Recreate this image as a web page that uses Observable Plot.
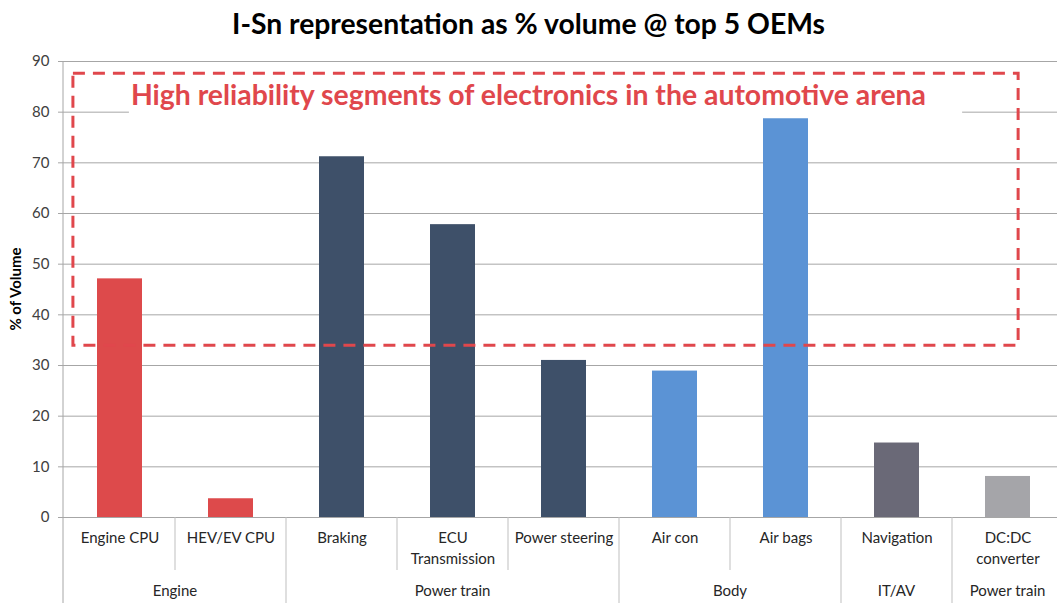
<!DOCTYPE html>
<html><head><meta charset="utf-8">
<script src="https://cdn.jsdelivr.net/npm/d3@7"></script>
<script src="https://cdn.jsdelivr.net/npm/@observablehq/plot@0.6"></script>
<style>
body{margin:0;background:#fff;}
#title{height:50px;font-family:Lato,sans-serif;font-weight:bold;font-size:28.3px;text-align:center;line-height:46px;color:#000;}
#chart svg{overflow:visible;}
</style></head><body>
<div id="title">I-Sn representation as % volume @ top 5 OEMs</div>
<div id="chart"></div>
<script>
const categories = ["Engine CPU","HEV/EV CPU","Braking","ECU\nTransmission","Power steering","Air con","Air bags","Navigation","DC:DC\nconverter"];
const values = [47.1, 3.7, 71.2, 57.8, 31.0, 28.9, 78.7, 14.7, 8.1];
const groups = ["Engine","Engine","Power train","Power train","Power train","Body","Body","IT/AV","Power train"];
const barColors = ["#DD4A4B","#DD4A4B","#3E5069","#3E5069","#3E5069","#5B93D5","#5B93D5","#6A6977","#A5A5A9"];
const yTicks = [0,10,20,30,40,50,60,70,80,90];
const yLabel = "% of Volume";
const annotationText = "High reliability segments of electronics in the automotive arena";
const boxRange = [33.9, 87.6];

const data = categories.map((c, i) => ({category: c, value: values[i], group: groups[i]}));
const runs = [];
groups.forEach((g, i) => {
  if (i > 0 && groups[i - 1] === g) runs[runs.length - 1].last = categories[i];
  else runs.push({group: g, first: categories[i], last: categories[i]});
});

function bandHelpers(x) {
  const step = x(categories[1]) - x(categories[0]);
  const bw = typeof x.bandwidth === "function" ? x.bandwidth() : step * 0.405;
  const start = c => x(c) - (step - bw) / 2;
  return {step, bw, start, end: c => start(c) + step};
}

function decor(index, scales, values, dims) {
  const {step, bw, start, end} = bandHelpers(scales.x);
  const bottom = dims.height - dims.marginBottom;
  const g = d3.create("svg:g");
  g.append("line").attr("x1", dims.marginLeft).attr("x2", dims.marginLeft)
    .attr("y1", dims.marginTop).attr("y2", dims.height).attr("stroke", "#a6a6a6");
  categories.forEach((c, i) => {
    if (i === 0) return;
    const isGroup = groups[i] !== groups[i - 1];
    g.append("line").attr("x1", start(c)).attr("x2", start(c))
      .attr("y1", bottom).attr("y2", isGroup ? dims.height : bottom + 53)
      .attr("stroke", "#bfbfbf");
  });
  runs.forEach(r => {
    g.append("text").attr("x", (start(r.first) + end(r.last)) / 2).attr("y", bottom + 75)
      .attr("text-anchor", "middle").attr("dominant-baseline", "middle")
      .attr("font-size", 15).attr("fill", "#262626").text(r.group);
  });
  // y label
  const yMid = (dims.marginTop + bottom) / 2;
  g.append("text").attr("transform", `translate(${dims.marginLeft - 46},${yMid}) rotate(-90)`)
    .attr("text-anchor", "middle").attr("dominant-baseline", "middle")
    .attr("font-size", 15).attr("font-weight", "bold").attr("fill", "#000").text(yLabel);
  // dashed annotation box
  const x0 = scales.x(categories[0]) - 0.217 * step;
  const x1 = scales.x(categories[categories.length - 1]) + bw - 0.107 * step;
  const yTop = scales.y(boxRange[1]), yBot = scales.y(boxRange[0]);
  g.append("rect").attr("x", x0 + 56).attr("y", yTop + 7).attr("width", x1 - x0 - 112).attr("height", 34)
    .attr("fill", "#fff");
  g.append("rect").attr("x", x0).attr("y", yTop).attr("width", x1 - x0).attr("height", yBot - yTop)
    .attr("fill", "none").attr("stroke", "#E0474C").attr("stroke-width", 3).attr("stroke-dasharray", "12,8");
  g.append("text").attr("x", x0 + 58).attr("y", yTop + 32).attr("text-anchor", "start")
    .attr("font-size", 28.4).attr("font-weight", "bold").attr("fill", "#E0474C")
    .text(annotationText);
  return g.node();
}

const chart = Plot.plot({
  width: 1057, height: 553,
  marginTop: 11, marginBottom: 86, marginLeft: 63, marginRight: 0,
  style: {fontFamily: "Lato, sans-serif", fontSize: "15px", color: "#404040", background: "#fff", overflow: "visible"},
  x: {domain: categories, range: [63, 1063], paddingInner: 0.595, paddingOuter: 0.2975, axis: null},
  y: {domain: [0, 90], axis: null},
  color: {domain: categories, range: barColors},
  marks: [
    Plot.gridY(yTicks, {stroke: "#a6a6a6", strokeOpacity: 1}),
    Plot.axisY(yTicks, {tickSize: 5, tickPadding: 9, stroke: "#a6a6a6", strokeOpacity: 1, fontSize: 15, label: null, fill: "#404040"}),
    Plot.barY(data, {x: "category", y: "value", fill: "category"}),
    Plot.text(categories, {x: d => d, frameAnchor: "bottom", lineAnchor: "top", dy: 11, lineHeight: 1.4, fontSize: 15, fill: "#262626"}),
    decor
  ]
});
document.getElementById("chart").appendChild(chart);
</script>
</body></html>
